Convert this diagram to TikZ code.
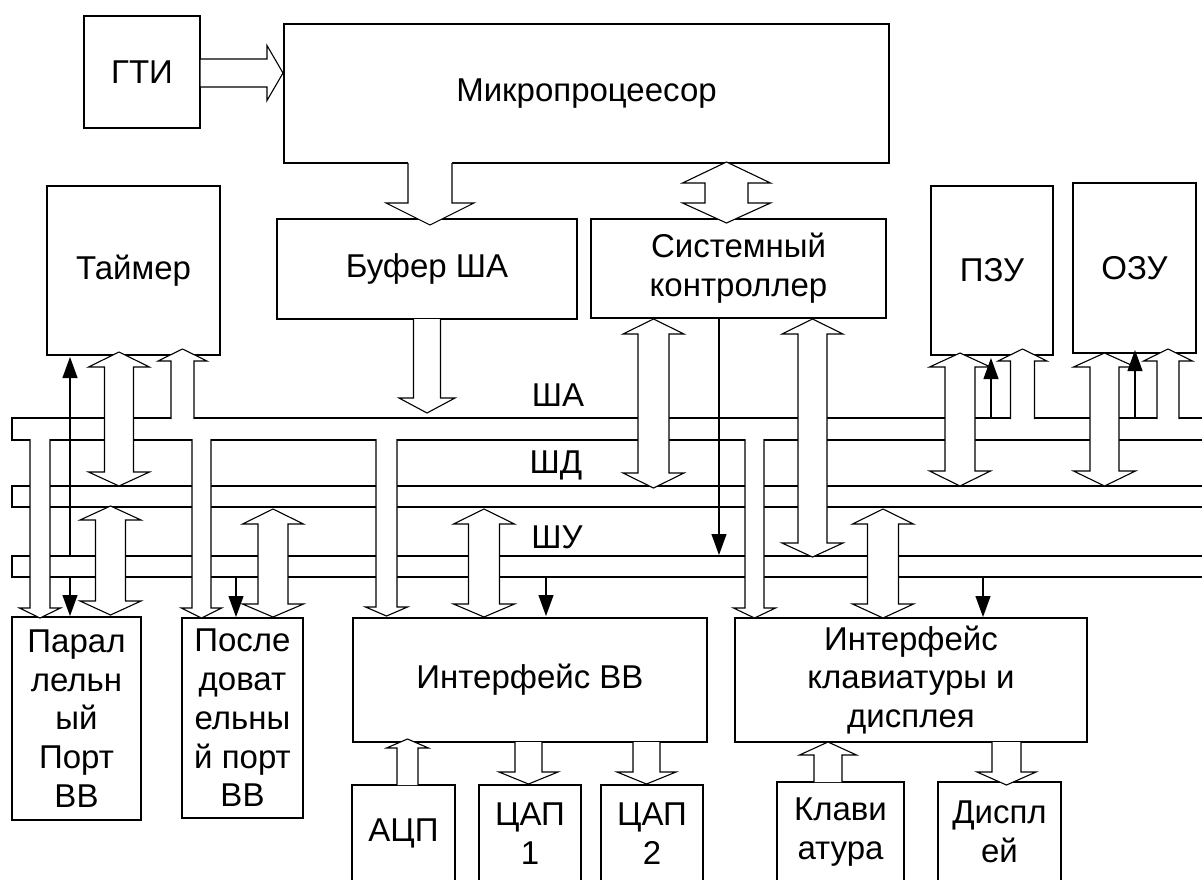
\documentclass[tikz,border=0pt]{standalone}
\usepackage{fontspec}
\setmainfont{Liberation Sans}
\usetikzlibrary{arrows.meta}
% vertical block arrow: x, shaft half, head half, y fill start, y outline start, y head base, y tip
\newcommand{\vblk}[7]{%
  \fill[white] ({#1-#2},#4) -- ({#1-#2},#6) -- ({#1-#3},#6) -- (#1,#7) -- ({#1+#3},#6) -- ({#1+#2},#6) -- ({#1+#2},#4) -- cycle;
  \draw[blk] ({#1-#2},#5) -- ({#1-#2},#6) -- ({#1-#3},#6) -- (#1,#7) -- ({#1+#3},#6) -- ({#1+#2},#6) -- ({#1+#2},#5);
}
% vertical double block arrow: x, shaft half, head half, top tip, top base, bottom base, bottom tip
\newcommand{\dblk}[7]{%
  \filldraw[blk,fill=white] (#1,#4) -- ({#1+#3},#5) -- ({#1+#2},#5) -- ({#1+#2},#6) -- ({#1+#3},#6) -- (#1,#7) -- ({#1-#3},#6) -- ({#1-#2},#6) -- ({#1-#2},#5) -- ({#1-#3},#5) -- cycle;
}
\tikzset{
  box/.style={draw, line width=1.1pt, inner sep=0pt, align=center, font=\fontsize{33}{38.8}\selectfont},
  blk/.style={line width=1.1pt},
  thinarr/.style={line width=1.1pt, -{Triangle[length=21pt,width=15pt]}},
  buslbl/.style={anchor=base, inner sep=0pt, font=\fontsize{33}{38.8}\selectfont}
}
\begin{document}
\begin{tikzpicture}[x=1pt,y=-1pt]
\useasboundingbox (0,0) rectangle (1202,879);
\clip (0,0) rectangle (1202,879);
\fill[white] (0,0) rectangle (1202,879);

% boxes
\node[box, minimum width=116pt, minimum height=112pt] (gti) at (142,72) {ГТИ};
\node[box, minimum width=605pt, minimum height=139pt] (mp) at (586.5,93.5) {Микропроцеесор};
\node[box, minimum width=173pt, minimum height=169pt] (tim) at (133.5,270.5) {Таймер};
\node[box, minimum width=300pt, minimum height=100pt] (buf) at (427,269) {Буфер ША};
\node[box, minimum width=295pt, minimum height=99pt] (sysc) at (738.5,268.5) {Системный\\контроллер};
\node[box, minimum width=122pt, minimum height=169pt] (pzu) at (992,270.5) {ПЗУ};
\node[box, minimum width=123pt, minimum height=170pt] (ozu) at (1134.5,268) {ОЗУ};
\node[box, minimum width=129pt, minimum height=203pt] (par) at (76.5,718.5) {Парал\\лельн\\ый\\Порт\\ВВ};
\node[box, minimum width=121pt, minimum height=200pt] (ser) at (242.5,718) {После\\доват\\ельны\\й порт\\ВВ};
\node[box, minimum width=354pt, minimum height=124pt] (iovv) at (530,680) {Интерфейс ВВ};
\node[box, minimum width=352pt, minimum height=124pt] (kbdi) at (911,680) {Интерфейс\\клавиатуры и\\дисплея};
\node[box, minimum width=103pt, minimum height=97pt] (adc) at (403.5,833.5) {АЦП};
\node[box, minimum width=102pt, minimum height=97pt] (dac1) at (530,833.5) {ЦАП\\1};
\node[box, minimum width=102pt, minimum height=97pt] (dac2) at (652,833.5) {ЦАП\\2};
\node[box, minimum width=127pt, minimum height=100pt] (klav) at (840.5,832) {Клави\\атура};
\node[box, minimum width=123pt, minimum height=100pt] (disp) at (999.5,832) {Диспл\\ей};

% buses
\draw[blk] (1202,418) -- (12,418) -- (12,440) -- (1202,440);
\draw[blk] (1202,486) -- (12,486) -- (12,507) -- (1202,507);
\draw[blk] (1202,556) -- (12,556) -- (12,577) -- (1202,577);
\node[buslbl] (lsha) at (558,406) {ША};
\node[buslbl] (lshd) at (556,473) {ШД};
\node[buslbl] (lshu) at (557,548) {ШУ};

% GTI -> MP
\fill[white] (200.6,59) -- (267,59) -- (267,45.5) -- (283,73) -- (267,100.5) -- (267,87) -- (200.6,87) -- cycle;
\draw[blk] (200,59) -- (267,59) -- (267,45.5) -- (283,73) -- (267,100.5) -- (267,87) -- (200,87);

% MP -> buffer, MP <-> system controller
\vblk{430}{22}{44}{161.5}{163}{203}{225}
\dblk{726.5}{21.5}{44}{162}{183}{203}{223}

% buffer -> SHA
\vblk{427}{13.5}{28}{319}{319}{398}{413}

% system controller <-> SHD, <-> SHU
\dblk{653.5}{15.5}{30.5}{319}{334}{473}{488}
\dblk{812.5}{14.5}{30.5}{319}{334}{543}{557}

% timer
\dblk{119}{14.5}{30.5}{352}{367}{472}{486}
\vblk{182.5}{11.5}{24.5}{421}{419}{361}{349}

% parallel port
\vblk{40}{10}{20.5}{437}{439}{608}{618}
\dblk{110.5}{15}{30.5}{506}{520}{601}{615}

% serial port
\vblk{201.5}{9.5}{20}{437}{439}{608}{618}
\dblk{273}{15}{30.5}{509}{524}{604}{617}

% I/O interface
\vblk{386.5}{10.5}{21}{437}{439}{607}{616}
\dblk{484}{15.5}{30.5}{509}{524}{604}{617}

% keyboard/display interface
\vblk{754.5}{9.5}{21}{437}{439}{608}{618}
\dblk{883}{15.5}{30.5}{509}{524}{604}{618}

% ROM, RAM
\dblk{960}{15}{30.5}{353}{367}{471}{486}
\vblk{1022.5}{12}{24.5}{421}{419}{361}{349}
\dblk{1104.5}{14.5}{31}{353}{367}{471}{486}
\vblk{1168}{11}{24.5}{421}{419}{361}{349}

% peripherals
\vblk{407.5}{10.5}{21}{785}{785}{748}{739}
\vblk{528.5}{13.5}{29.5}{742}{742}{772}{784}
\vblk{646.5}{13.5}{29.5}{742}{742}{772}{784}
\vblk{828}{14}{28.5}{782}{782}{755}{742}
\vblk{1006.5}{14.5}{29.5}{742}{742}{772}{785}

% thin control lines
\draw[thinarr] (719,318) -- (719,555);
\draw[thinarr] (70,556) -- (70,357);
\draw[thinarr] (70,577) -- (70,616);
\draw[thinarr] (236,577) -- (236,617);
\draw[thinarr] (546,577) -- (546,616);
\draw[thinarr] (983,577) -- (983,617);
\draw[thinarr] (991,418) -- (991,358);
\draw[thinarr] (1135,418) -- (1135,350);
\end{tikzpicture}
\end{document}
